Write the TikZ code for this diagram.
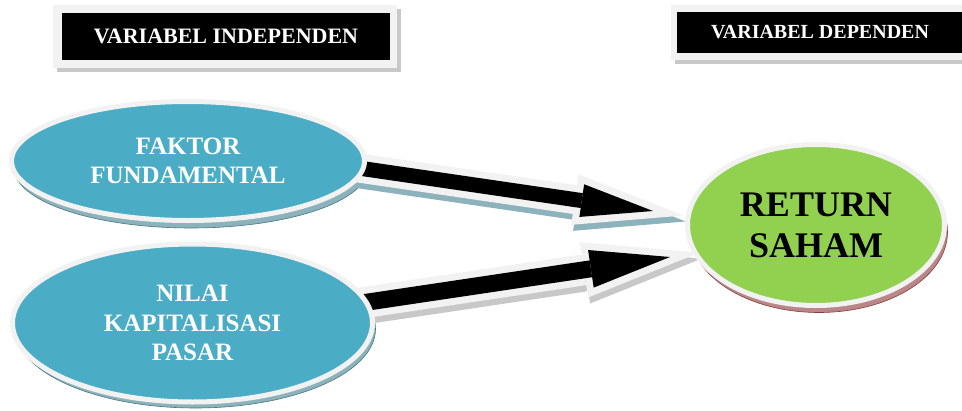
\documentclass[tikz,border=0pt]{standalone}
\usepackage{fontspec}
\setmainfont{Liberation Serif}
\usetikzlibrary{shapes.geometric,arrows.meta,calc,backgrounds}
\definecolor{aqua}{HTML}{4BACC6}
\definecolor{lime}{HTML}{92D050}
\definecolor{ring}{HTML}{F2F2F2}
\definecolor{tealshadow}{RGB}{140,178,188}
\definecolor{tealedge}{RGB}{70,120,130}
\definecolor{redshadow}{RGB}{185,135,135}
\definecolor{rededge}{RGB}{130,60,60}
\definecolor{grayshadow}{RGB}{200,200,200}
\begin{document}
\begin{tikzpicture}[x=1pt,y=-1pt,
  varbox/.style={fill=black,text=white,inner sep=0pt},
  indep/.style={ellipse,fill=aqua,draw=ring,line width=5pt,inner sep=0pt,
    text=white,align=center,font=\fontsize{25}{29.5}\selectfont\bfseries},
  dep/.style={ellipse,fill=lime,draw=ring,line width=5pt,inner sep=0pt,
    text=black,align=center,font=\fontsize{36}{41}\selectfont\bfseries},
  boxframe/.style={fill=ring},
  boxshadow/.style={fill=grayshadow},
  blueshadow/.style={fill=tealshadow,draw=tealedge,line width=0.6pt},
  greenshadow/.style={fill=redshadow,draw=rededge,line width=0.6pt},
  arrowouter/.style={draw=ring,line width=29pt},
  arrowinner/.style={draw=black,line width=15pt}
]
\clip (0,0) rectangle (962,410);

% header boxes
\node[varbox,minimum width=328pt,minimum height=47pt,
  font=\fontsize{22}{26}\selectfont\bfseries] (b1) at (226,36.5) {VARIABEL INDEPENDEN};
\node[varbox,minimum width=286pt,minimum height=41pt,
  font=\fontsize{20}{24}\selectfont\bfseries] (b2) at (820,32.5) {VARIABEL DEPENDEN};

% ellipses
\node[indep,minimum width=353pt,minimum height=119pt] (fak) at (188,161)
  {FAKTOR\\FUNDAMENTAL};
\node[indep,minimum width=360pt,minimum height=158pt] (nil) at (192.5,323)
  {NILAI\\KAPITALISASI\\PASAR};
\node[dep,minimum width=257pt,minimum height=161pt] (ret) at (816,225)
  {RETURN\\SAHAM};

% arrow end points
\coordinate (a1s) at (340,165.3);
\coordinate (a1t) at (653,211);
\coordinate (a2s) at (340,306.2);
\coordinate (a2t) at (670,257);

\begin{scope}[on background layer]
  % box shadows and frames
  \fill[boxshadow] ($(b1.south west)+(-5,12)$) rectangle ($(b1.north east)+(11,-4)$);
  \fill[boxframe] ($(b1.south west)+(-9,8)$) rectangle ($(b1.north east)+(7,-8)$);
  \fill[boxshadow] ($(b2.south west)+(-2,11)$) rectangle ($(b2.north east)+(12,-3)$);
  \fill[boxframe] ($(b2.south west)+(-6,7)$) rectangle ($(b2.north east)+(8,-7)$);
  % ellipse shadows
  \path[blueshadow] ($(fak.center)+(3,7)$) ellipse [x radius=177pt, y radius=60pt];
  \path[blueshadow] ($(nil.center)+(3,6)$) ellipse [x radius=180pt, y radius=79pt];
  \path[greenshadow] ($(ret.center)+(3,7)$) ellipse [x radius=128.5pt, y radius=80.5pt];
  % arrow shadows
  \draw[arrowouter,draw=tealshadow,transform canvas={shift={(2pt,-6pt)}},
    -{Triangle[length=110pt,width=51pt,line width=0pt,color=tealshadow]}]
    (a1s) -- ($(a1t)!-31pt!(a1s)$);
  \draw[arrowouter,line width=31pt,draw=grayshadow,transform canvas={shift={(2pt,-6pt)}},
    -{Triangle[length=117pt,width=56pt,line width=0pt,color=grayshadow]}]
    (a2s) -- ($(a2t)!-30pt!(a2s)$);
  % arrow outlines
  \draw[arrowouter,
    -{Triangle[length=110pt,width=51pt,line width=0pt,color=ring]}]
    (a1s) -- ($(a1t)!-31pt!(a1s)$);
  \draw[arrowouter,line width=31pt,
    -{Triangle[length=117pt,width=56pt,line width=0pt,color=ring]}]
    (a2s) -- ($(a2t)!-30pt!(a2s)$);
  % arrows
  \draw[arrowinner,
    -{Triangle[length=72pt,width=33pt,line width=0pt,color=black]}]
    (a1s) -- (a1t);
  \draw[arrowinner,line width=17pt,
    -{Triangle[length=80pt,width=38pt,line width=0pt,color=black]}]
    (a2s) -- (a2t);
\end{scope}
\end{tikzpicture}
\end{document}
